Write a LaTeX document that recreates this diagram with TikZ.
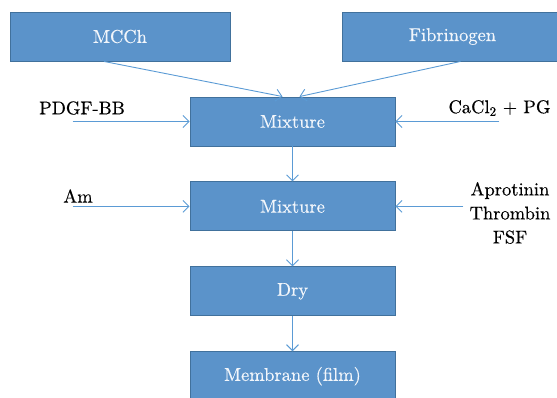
\documentclass[tikz,border=0pt]{standalone}
\usepackage{xcolor}
\usepackage{fontspec}
\setmainfont{lmroman10-regular.otf}[FakeBold=0.4]
\usepackage{tikz}
\usetikzlibrary{arrows.meta,positioning}

\definecolor{boxfill}{HTML}{5B93CA}
\definecolor{boxline}{HTML}{41719C}
\definecolor{arrowcol}{HTML}{5B9BD5}
\definecolor{boxtext}{HTML}{F2F6FB}

\begin{document}
\begin{tikzpicture}[
  x=1pt, y=-1pt,
  node distance=35pt,
  font=\fontsize{18.5}{24}\selectfont,
  box/.style={rectangle, draw=boxline, line width=0.9pt, fill=boxfill, text=boxtext, align=center, minimum width=205pt, minimum height=49pt},
  topbox/.style={box, minimum width=220pt},
  label/.style={align=center, inner sep=0pt},
  arrow/.style={-{Straight Barb[length=6pt,width=12pt]}, draw=arrowcol, line width=0.9pt}
]
\useasboundingbox (0,0) rectangle (557,397);
\clip (0,0) rectangle (557,397);

\node[topbox] (mcch) at (120,36.5) {MCCh};
\node[topbox] (fib) at (452.5,36.5) {Fibrinogen};
\node[box] (mix1) at (292.5,121.5) {Mixture};
\node[box, below=of mix1] (mix2) {Mixture};
\node[box, below=of mix2] (dry) {Dry};
\node[box, below=of dry] (film) {Membrane (film)};

\draw[arrow] ([xshift=-16pt]mcch.south) -- ([xshift=-10pt]mix1.north);
\draw[arrow] ([xshift=8pt]fib.south) -- ([xshift=7pt]mix1.north);
\draw[arrow] (mix1) -- (mix2);
\draw[arrow] (mix2) -- (dry);
\draw[arrow] (dry) -- (film);

% side inputs
\node[label] (pdgf) at (82,108) {PDGF-BB};
\coordinate (pdgfin) at ([xshift=-117pt]mix1.west);
\draw[arrow] (pdgfin) -- (mix1.west);

\node[label] (cacl) at (499.5,108) {CaCl\textsubscript{2} + PG};
\coordinate (caclin) at ([xshift=104pt]mix1.east);
\draw[arrow] (caclin) -- (mix1.east);

\node[label] (am) at (78,196) {Am};
\coordinate (amin) at ([xshift=-117pt]mix2.west);
\draw[arrow] (amin) -- (mix2.west);

\node[label] (apro) at (510,213) {Aprotinin\\Thrombin\\FSF};
\coordinate (aproin) at ([xshift=68pt]mix2.east);
\draw[arrow] (aproin) -- (mix2.east);

\end{tikzpicture}
\end{document}
